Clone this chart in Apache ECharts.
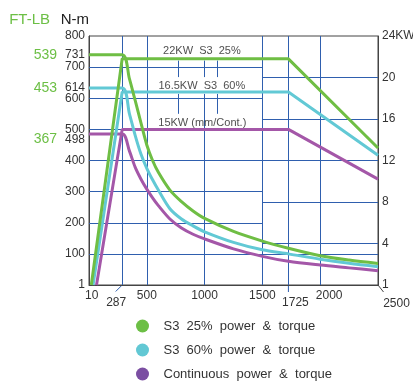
<!DOCTYPE html>
<html><head><meta charset="utf-8">
<script src="https://cdn.jsdelivr.net/npm/echarts@6/dist/echarts.min.js"></script>
<style>html,body{margin:0;padding:0;background:#fff}#c{width:413px;height:381px}</style>
</head><body><div id="c"></div>
<script>
// ---- data ----
const speedTicks = [10, 287, 500, 1000, 1500, 1725, 2000, 2500];
const torqueTicks = [0, 100, 200, 300, 400, 500, 600, 700, 800];
const torqueTickLabels = ['1', '100', '200', '300', '400', '500', '600', '700', '800'];
const powerTicks = [0, 4, 8, 12, 16, 20, 24];
const powerTickLabels = ['1', '4', '8', '12', '16', '20', '24KW'];
const ratedTorqueNm = ['731', '614', '498'];
const ratedTorqueFtLb = ['539', '453', '367'];
const seriesNames = ['S3  25%  power  &  torque', 'S3  60%  power  &  torque', 'Continuous  power  &  torque'];
const ratingTexts = ['22KW  S3  25%', '16.5KW  S3  60%', '15KW (mm/Cont.)'];

// torque (N-m) vs speed (rpm); flat from 0 rpm up to 287 rpm
const torqueSpeed = [287, 350, 400, 450, 500, 550, 600, 700, 800, 900, 1000, 1250, 1500, 1725, 2000, 2250, 2500];
const torqueS3_25 = [740, 662, 592, 520, 450, 400, 362, 305, 268, 238, 214, 172, 141, 118, 94, 80, 69];
const torqueS3_60 = [633, 550, 480, 420, 375, 338, 305, 245, 212, 190, 171, 137, 113, 100, 83, 70, 59];
const torqueCont  = [485, 430, 378, 340, 308, 280, 255, 212, 183, 163, 148, 116, 92, 76, 64, 55, 46];

// power (kW) vs speed (rpm)
const powerSpeed = [null, 287, 1725, 2500];
const powerStartSpeed = [20, 35, 65];
const powerS3_25 = [0, 21.8, 21.8, 13.2];
const powerS3_60 = [0, 18.6, 18.6, 12.5];
const powerCont  = [0, 15.0, 15.0, 10.2];

// ---- chart ----
const FONT = '"Liberation Sans", Arial, Helvetica, sans-serif';
const lineColors = ['#6fbe44', '#62c9d5', '#a457a8'];
const legendColors = ['#6cbf45', '#62c8d4', '#7b4ea2'];
const gridColor = '#2f5fae';
const axisColor = '#444';
const torqueSets = [torqueS3_25, torqueS3_60, torqueCont];
const powerSets = [powerS3_25, powerS3_60, powerCont];
const ratedValues = torqueSets.map(t => t[0]);

const nmLabelMap = {};
torqueTicks.forEach((v, i) => nmLabelMap[v] = torqueTickLabels[i]);
ratedValues.forEach((v, i) => nmLabelMap[v] = i === 2 ? '{lo|' + ratedTorqueNm[i] + '}' : ratedTorqueNm[i]);
const ftLabelMap = {};
ratedValues.forEach((v, i) => ftLabelMap[v] = i === 2 ? '{lo|' + ratedTorqueFtLb[i] + '}' : ratedTorqueFtLb[i]);
const kwLabelMap = {};
powerTicks.forEach((v, i) => kwLabelMap[v] = powerTickLabels[i]);
const xRich = {'10': 'a', '287': 'b', '1725': 'c', '2000': 'd', '2500': 'e'};

// grid segments (decoration)
const nmLines = [];
[100, 200, 300, 400, 500, 600, 700].forEach(v => nmLines.push({coords: [[0, v], [v === 100 ? 2500 : 1500, v]]}));
[287, 500, 1500, 1725, 2000].forEach(x => nmLines.push({coords: [[x, 0], [x, 800]]}));
nmLines.push({coords: [[1000, 0], [1000, 614]]});
[770, 1000, 1110].forEach(x => nmLines.push({coords: [[x, 668], [x, 721]]}));
[770, 1110].forEach(x => nmLines.push({coords: [[x, 550], [x, 614]]}));
const kwLines = [4, 8, 12, 16, 20].map(v => ({coords: [[1500, v], [2500, v]]}));

const series = [
  {type: 'lines', coordinateSystem: 'cartesian2d', xAxisIndex: 0, yAxisIndex: 0, silent: true, z: 1,
   lineStyle: {color: gridColor, width: 1, opacity: 1}, data: nmLines},
  {type: 'lines', coordinateSystem: 'cartesian2d', xAxisIndex: 0, yAxisIndex: 2, silent: true, z: 1,
   lineStyle: {color: gridColor, width: 1, opacity: 1}, data: kwLines},
  {type: 'scatter', xAxisIndex: 0, yAxisIndex: 0, silent: true, z: 2, symbol: 'rect', symbolSize: 1,
   itemStyle: {color: 'rgba(0,0,0,0)'},
   label: {show: true, position: 'inside', formatter: p => p.name, color: '#222', fontSize: 11, fontFamily: FONT},
   data: [
     {name: ratingTexts[0], value: [977, 752]},
     {name: ratingTexts[1], value: [976, 640]},
     {name: ratingTexts[2], value: [980, 522]}
   ]}
];
for (let k = 2; k >= 0; k--) {
  const t = torqueSets[k];
  series.push({
    name: seriesNames[k], type: 'line', xAxisIndex: 0, yAxisIndex: 0, z: 3,
    showSymbol: false, smooth: 0.3,
    lineStyle: {color: lineColors[k], width: 3}, itemStyle: {color: lineColors[k]},
    data: [[0, t[0]]].concat(torqueSpeed.map((s, i) => [s, t[i]]))
  });
  const p = powerSets[k];
  series.push({
    name: seriesNames[k], type: 'line', xAxisIndex: 0, yAxisIndex: 2, z: 3,
    showSymbol: false,
    lineStyle: {color: lineColors[k], width: 3}, itemStyle: {color: lineColors[k]},
    data: p.map((v, i) => [i === 0 ? powerStartSpeed[k] : powerSpeed[i], v])
  });
}

const chart = echarts.init(document.getElementById('c'), null, {renderer: 'canvas'});
chart.setOption({
  animation: false,
  backgroundColor: '#fff',
  textStyle: {fontFamily: FONT},
  grid: {left: 89, top: 36, width: 289, height: 249, show: true, borderColor: axisColor, borderWidth: 1,
         containLabel: false, outerBoundsMode: 'none'},
  legend: {
    orient: 'vertical', left: 136, top: 319.5, padding: 0, height: 80, itemWidth: 32, itemHeight: 13, itemGap: 11,
    icon: 'circle', symbolKeepAspect: true, selectedMode: false,
    textStyle: {fontSize: 13, color: '#333', fontFamily: FONT},
    data: seriesNames.map((n, i) => ({name: n, itemStyle: {color: legendColors[i]}}))
  },
  xAxis: {
    type: 'value', min: 0, max: 2500,
    axisLine: {show: true, lineStyle: {color: axisColor}},
    axisTick: {show: false}, splitLine: {show: false},
    axisLabel: {
      customValues: speedTicks, margin: 5, color: '#333', fontSize: 12, fontFamily: FONT,
      formatter: v => xRich[v] ? '{' + xRich[v] + '|' + v + '}' : String(v),
      rich: {
        a: {padding: [0, 0, 0, 3], fontSize: 12, fontFamily: FONT, color: '#333'},
        b: {padding: [7, 12, 0, 0], fontSize: 12, fontFamily: FONT, color: '#333'},
        c: {padding: [7, 0, 0, 14], fontSize: 12, fontFamily: FONT, color: '#333'},
        d: {padding: [0, 0, 0, 18], fontSize: 12, fontFamily: FONT, color: '#333'},
        e: {padding: [8, 0, 0, 37], fontSize: 12, fontFamily: FONT, color: '#333'}
      }
    }
  },
  yAxis: [
    {
      type: 'value', min: 0, max: 800, position: 'left',
      name: 'N-m', nameLocation: 'end', nameGap: 16,
      nameTextStyle: {align: 'right', verticalAlign: 'middle', fontSize: 15, color: '#222', fontFamily: FONT},
      axisLine: {show: true, lineStyle: {color: axisColor}},
      axisTick: {show: false}, splitLine: {show: false},
      axisLabel: {
        customValues: torqueTicks.concat(ratedValues), margin: 4, color: '#333', fontSize: 12, fontFamily: FONT,
        formatter: v => nmLabelMap[v] !== undefined ? nmLabelMap[v] : '',
        rich: {lo: {padding: [12, 0, 0, 0], fontSize: 12, fontFamily: FONT, color: '#333'}}
      }
    },
    {
      type: 'value', min: 0, max: 800, position: 'left', offset: 32,
      name: 'FT-LB', nameLocation: 'end', nameGap: 16,
      nameTextStyle: {align: 'right', verticalAlign: 'middle', fontSize: 15, color: '#6cbf45', fontFamily: FONT, padding: [0, 7, 0, 0]},
      axisLine: {show: false}, axisTick: {show: false}, splitLine: {show: false},
      axisLabel: {
        customValues: ratedValues, margin: 0, color: '#6cbf45', fontSize: 14, fontFamily: FONT,
        formatter: v => ftLabelMap[v] !== undefined ? ftLabelMap[v] : '',
        rich: {lo: {padding: [11, 0, 0, 0], fontSize: 14, fontFamily: FONT, color: '#6cbf45'}}
      }
    },
    {
      type: 'value', min: 0, max: 24, position: 'right',
      axisLine: {show: true, lineStyle: {color: axisColor}},
      axisTick: {show: false}, splitLine: {show: false},
      axisLabel: {
        customValues: powerTicks, margin: 4, color: '#333', fontSize: 12, fontFamily: FONT,
        formatter: v => kwLabelMap[v] !== undefined ? kwLabelMap[v] : ''
      }
    }
  ],
  series: series
});

// leader ticks under the x axis for 287, 1725, 2500
const toPx = v => chart.convertToPixel({xAxisIndex: 0, yAxisIndex: 0}, v);
const p287 = toPx([287, 0]), p1725 = toPx([1725, 0]), p2500 = toPx([2500, 0]);
chart.setOption({
  graphic: [
    {type: 'line', shape: {x1: p287[0], y1: p287[1], x2: p287[0] - 6.5, y2: p287[1] + 6.5}, style: {stroke: gridColor, lineWidth: 1}},
    {type: 'line', shape: {x1: p1725[0], y1: p1725[1], x2: p1725[0], y2: p1725[1] + 7}, style: {stroke: gridColor, lineWidth: 1}},
    {type: 'line', shape: {x1: p2500[0], y1: p2500[1], x2: p2500[0] + 5.5, y2: p2500[1] + 7}, style: {stroke: axisColor, lineWidth: 1}}
  ]
});
</script>
</body></html>
